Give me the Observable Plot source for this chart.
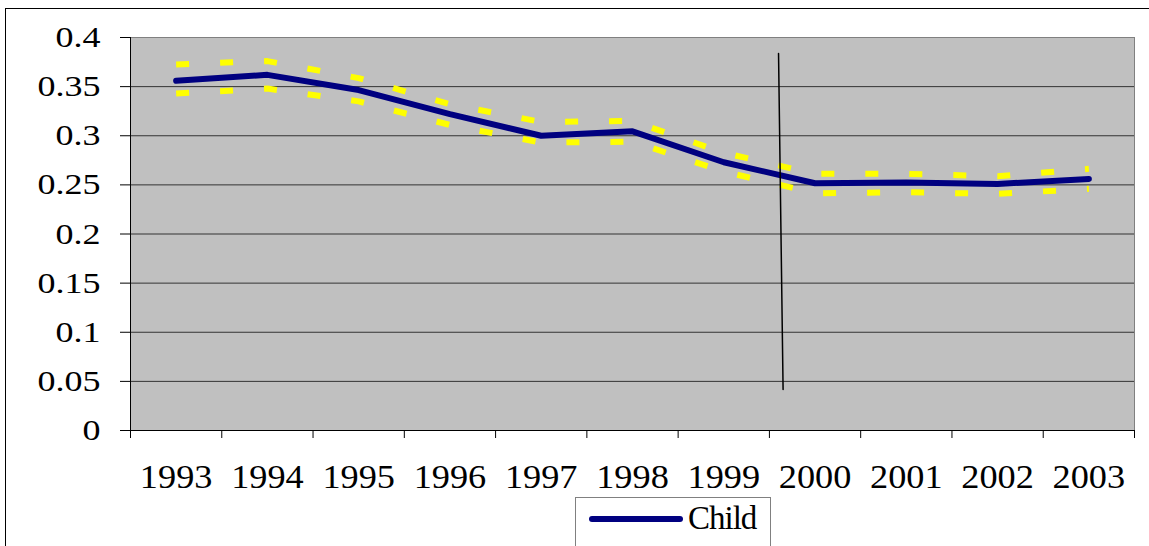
<!DOCTYPE html>
<html><head><meta charset="utf-8">
<script src="https://cdn.jsdelivr.net/npm/d3@7"></script>
<script src="https://cdn.jsdelivr.net/npm/@observablehq/plot@0.6"></script>
<style>
html,body{margin:0;padding:0;background:#fff;}
body{width:1149px;height:546px;overflow:hidden;position:relative;font-family:"Liberation Serif","Times New Roman",serif;}
#frame{position:absolute;left:5px;top:8px;width:1200px;height:600px;border:1px solid #000;box-sizing:border-box;}
#chart{position:absolute;left:0;top:0;}
#legend{position:absolute;left:575px;top:497px;width:196px;height:70px;border:1px solid #808080;box-sizing:border-box;background:#fff;}
#legend .sw{position:absolute;left:13px;top:18px;width:94px;height:6px;border-radius:3px;background:#000080;}
#legend .lab{position:absolute;left:112px;top:2px;font-size:33px;line-height:36px;color:#000;letter-spacing:-1px;}
</style></head>
<body>
<div id="frame"></div>
<div id="chart"></div>
<div id="legend"><span class="sw"></span><span class="lab"></span></div>
<script>
const years = [1993, 1994, 1995, 1996, 1997, 1998, 1999, 2000, 2001, 2002, 2003];
const child = [0.356, 0.362, 0.3465, 0.322, 0.300, 0.3045, 0.273, 0.2517, 0.2524, 0.251, 0.256];
const upper = [0.3726, 0.376, 0.3587, 0.332, 0.314, 0.315, 0.2826, 0.2612, 0.2612, 0.2588, 0.2663];
const lower = [0.343, 0.348, 0.335, 0.311, 0.293, 0.294, 0.2636, 0.2415, 0.2425, 0.2408, 0.246];
const yTicks = [0, 0.05, 0.1, 0.15, 0.2, 0.25, 0.3, 0.35, 0.4];
const yTickLabels = ["0", "0.05", "0.1", "0.15", "0.2", "0.25", "0.3", "0.35", "0.4"];
const seriesName = "Child";
const dividerX = [1999.6, 1999.65];
const dividerY = [0.3837, 0.0417];

const rows = years.map((year, i) => ({year, child: child[i], upper: upper[i], lower: lower[i]}));
const divider = dividerX.map((x, i) => ({x, y: dividerY[i]}));
const xMin = years[0] - 0.5, xMax = years[years.length - 1] + 0.5;
const boundaries = years.map(y => y - 0.5).concat([xMax]);

const chart = Plot.plot({
  width: 1149, height: 495,
  marginLeft: 130, marginRight: 15, marginTop: 37, marginBottom: 65,
  x: {type: "linear", domain: [xMin, xMax]},
  y: {domain: [yTicks[0], yTicks[yTicks.length - 1]]},
  style: {fontFamily: "'Liberation Serif','Times New Roman',serif", color: "#000", background: "transparent", overflow: "visible"},
  marks: [
    Plot.frame({fill: "#C0C0C0", stroke: "#808080"}),
    Plot.gridY(yTicks.slice(1, -1), {stroke: "#333", strokeOpacity: 1, strokeWidth: 1}),
    Plot.ruleX([xMin], {stroke: "#000", strokeWidth: 1}),
    Plot.ruleY([0], {stroke: "#000", strokeWidth: 1}),
    Plot.axisY(yTicks, {tickSize: 10, tickPadding: 20, fontSize: 30, stroke: "#000", label: null,
      tickFormat: d => yTickLabels[yTicks.indexOf(d)]}),
    Plot.axisX(boundaries, {tickSize: 8, tickFormat: () => "", stroke: "#000", label: null}),
    Plot.axisX(years, {tickSize: 0, tickPadding: 34, fontSize: 33, label: null, tickFormat: d => String(d)}),
    Plot.line(rows, {x: "year", y: "upper", stroke: "#FFFF00", strokeWidth: 6, strokeDasharray: "13,31", strokeLinecap: "butt"}),
    Plot.line(rows, {x: "year", y: "lower", stroke: "#FFFF00", strokeWidth: 6, strokeDasharray: "13,31", strokeLinecap: "butt"}),
    Plot.line(rows, {x: "year", y: "child", stroke: "#000080", strokeWidth: 6, strokeLinecap: "round", strokeLinejoin: "round"}),
    Plot.line(divider, {x: "x", y: "y", stroke: "#000", strokeWidth: 1.5})
  ]
});

d3.select(chart).selectAll("g[aria-label='y-axis tick label'] text").each(function() {
  this.setAttribute("transform", (this.getAttribute("transform") || "") + " scale(1.2,1)");
});
d3.select(chart).selectAll("g[aria-label='x-axis tick label'] text").each(function() {
  this.setAttribute("transform", (this.getAttribute("transform") || "") + " scale(1.1,1)");
});

document.getElementById("chart").appendChild(chart);
document.querySelector("#legend .lab").textContent = seriesName;
</script>
</body></html>
